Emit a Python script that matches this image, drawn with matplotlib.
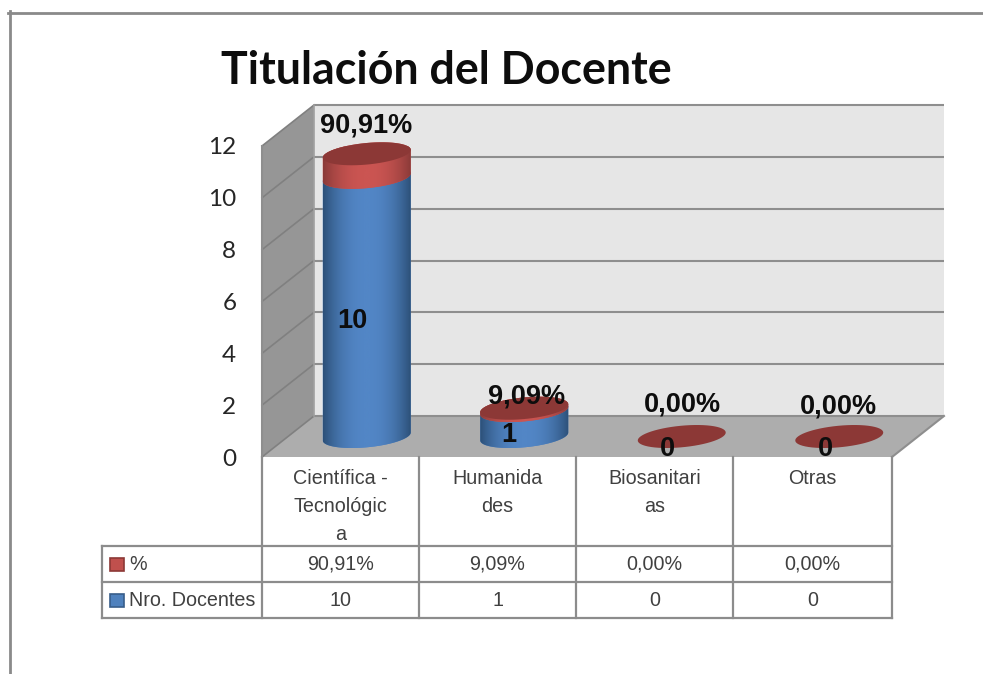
import numpy as np
import matplotlib
matplotlib.use("Agg")
import matplotlib.pyplot as plt
from matplotlib.lines import Line2D
from matplotlib.patches import Polygon, Rectangle
from matplotlib.transforms import Affine2D
from matplotlib.colors import LinearSegmentedColormap

# ---- data ----
title = "Titulación del Docente"
categories = ["Científica -\nTecnológic\na", "Humanida\ndes", "Biosanitari\nas", "Otras"]
nro_docentes = [10, 1, 0, 0]
porcentaje = [90.91, 9.09, 0.00, 0.00]
series_names = ["%", "Nro. Docentes"]
y_ticks = [0, 2, 4, 6, 8, 10, 12]


def pct(v):
    return f"{v:.2f}%".replace(".", ",")


W, H = 983, 674
fig = plt.figure(figsize=(W / 100, H / 100), dpi=100, facecolor="white")
PX = Affine2D().scale(1, -1).translate(0, H)  # image pixels to display

# axes = front plane of the 3-D box
L, R, T, B = 262, 892, 146, 457
ax = fig.add_axes([L / W, 1 - B / H, (R - L) / W, (B - T) / H])
ax.patch.set_alpha(0)
for s in ax.spines.values():
    s.set_visible(False)
n = len(categories)
ux, uy = (R - L) / n, (B - T) / 12
depth_x, depth_y = 52 / ux, 41 / uy
GRID = "#8E8E8E"

# walls
ax.add_patch(Rectangle((depth_x, depth_y), n, 12, fc="#E6E6E6", ec="none", zorder=1, clip_on=False))
ax.add_patch(Polygon([(0, 0), (depth_x, depth_y), (depth_x, depth_y + 12), (0, 12)],
                     fc="#969696", ec="none", zorder=1, clip_on=False))
ax.add_patch(Polygon([(0, 0), (n, 0), (n + depth_x, depth_y), (depth_x, depth_y)],
                     fc="#ADADAD", ec="none", zorder=1, clip_on=False))
for v in y_ticks:
    ax.plot([depth_x, n + depth_x], [v + depth_y] * 2, color=GRID, lw=1.5, zorder=2, clip_on=False,
            solid_capstyle="butt")
    ax.plot([0, depth_x], [v, v + depth_y], color="#808080", lw=1.2, zorder=2, clip_on=False)
ax.plot([0, 0], [0, 12], color=GRID, lw=1.5, zorder=2, clip_on=False)
ax.plot([depth_x, depth_x], [depth_y, depth_y + 12], color="#A0A0A0", lw=1.2, zorder=2, clip_on=False)
ax.plot([n, n + depth_x], [0, depth_y], color=GRID, lw=1.5, zorder=2, clip_on=False)

# cylinders
A, Bb, S = 44.0, 10.8, 0.09  # ellipse half-axes and tilt, in pixels


def arc(cx, v, t0, t1):
    t = np.linspace(t0, t1, 60)
    ex = A * np.cos(t)
    ey = Bb * np.sin(t) + S * ex
    return np.column_stack([cx + ex / ux, v + ey / uy])


def side(cx, v0, v1, edge, mid, z):
    pts = np.vstack([arc(cx, v0, np.pi, 2 * np.pi), arc(cx, v1, 0, np.pi)])
    patch = Polygon(pts, closed=True, fc=mid, ec="none", zorder=z, clip_on=False)
    ax.add_patch(patch)
    grad = np.abs(np.linspace(-1, 1, 256))[None, :] ** 2.2
    im = ax.imshow(1 - grad, cmap=LinearSegmentedColormap.from_list("g", [edge, mid]),
                   extent=[cx - A / ux, cx + A / ux, v0 - 1, v1 + 1], aspect="auto", zorder=z + 0.1,
                   clip_on=True)
    im.set_clip_path(patch)


BLUE_E, BLUE_M = "#2C5078", "#5286C6"
RED_E, RED_M = "#8A3A38", "#CB5552"
RED_TOP = "#8C3836"
for i, (a, b) in enumerate(zip(nro_docentes, porcentaje)):
    cx = i + 0.5 + depth_x / 2
    base = depth_y / 2
    top_blue = base + a
    top_red = top_blue + b / 100
    if a > 0:
        side(cx, base, top_blue, BLUE_E, BLUE_M, 3 + i)
    if b > 0:
        side(cx, top_blue, top_red, RED_E, RED_M, 3.3 + i)
    ax.add_patch(Polygon(arc(cx, top_red, 0, 2 * np.pi), fc=RED_TOP, ec="none", zorder=3.6 + i, clip_on=False))

ax.set_xlim(0, n)
ax.set_ylim(0, 12)
ax.set_xticks([])
ax.set_yticks(y_ticks)
ax.tick_params(axis="y", length=0, pad=18.5, labelsize=17.5, labelcolor="#262626")
for lab in ax.get_yticklabels():
    lab.set_fontfamily("Lato")
    lab.set_y(lab.get_position()[1])

# data labels (pixel nudges as Excel placed them)
LBL = dict(fontfamily="Liberation Sans", fontweight="bold", fontsize=19.5, color="#0D0D0D",
           ha="center", va="center", zorder=20, clip_on=False, textcoords="offset pixels")
pct_nudge = [(-1, 28), (2, 12), (1, 32), (-1, 30)]
nro_nudge = [(-14, 116), (-15, 1), (-14, -12), (-14, -12)]
for i, (a, b) in enumerate(zip(nro_docentes, porcentaje)):
    cx = i + 0.5 + depth_x / 2
    base = depth_y / 2
    ax.annotate(pct(b), (cx, base + a + b / 100), xytext=pct_nudge[i], **LBL)
    ax.annotate(str(a), (cx, base), xytext=nro_nudge[i], **LBL)

# title
fig.text(446, 71, title, transform=PX, fontfamily="Lato", fontweight="bold", fontsize=32.2,
         color="#0D0D0D", ha="center", va="center")

# outer frame
for xs, ys in [((8, W), (12.5, 12.5)), ((9.5, 9.5), (11, H))]:
    fig.add_artist(Line2D(xs, ys, transform=PX, color="#8A8A8A", lw=2.0))

# data table
TC = "#8C8C8C"
col_x = [262, 419, 576, 733, 892]
row_y = [457, 546, 582, 618]
left = 102
for y in row_y[1:]:
    fig.add_artist(Line2D((left, col_x[-1]), (y, y), transform=PX, color=TC, lw=1.6, zorder=5))
fig.add_artist(Line2D((left, left), (row_y[1], row_y[3]), transform=PX, color=TC, lw=1.6, zorder=5))
for x in col_x:
    fig.add_artist(Line2D((x, x), (row_y[0], row_y[3]), transform=PX, color=TC, lw=1.6, zorder=5))

TXT = dict(transform=PX, fontfamily="Liberation Sans", fontsize=14.2, color="#404040")
line_y = [478, 507, 535]
for i, c in enumerate(categories):
    xc = (col_x[i] + col_x[i + 1]) / 2
    for j, part in enumerate(c.split("\n")):
        fig.text(xc, line_y[j], part, ha="center", va="center", **TXT)
    fig.text(xc, 564.5, pct(porcentaje[i]), ha="center", va="center", **TXT)
    fig.text(xc, 600.5, str(nro_docentes[i]), ha="center", va="center", **TXT)

fig.text(129, 564.5, series_names[0], ha="left", va="center", **TXT)
fig.text(129, 600.5, series_names[1], ha="left", va="center", **TXT)
fig.add_artist(Rectangle((110, 558), 14, 13, transform=PX, fc="#C0504D", ec="#8C3836", lw=1.2))
fig.add_artist(Rectangle((110, 594), 14, 13, transform=PX, fc="#4F81BD", ec="#385D8A", lw=1.2))

fig.savefig("out.png", dpi=100, facecolor="white")
